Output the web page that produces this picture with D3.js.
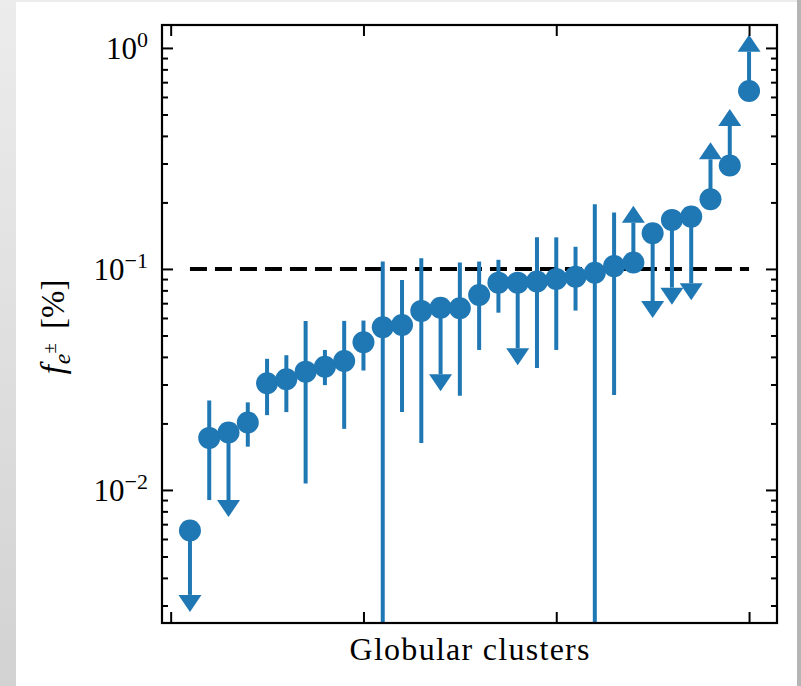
<!DOCTYPE html>
<html>
<head>
<meta charset="utf-8">
<script src="https://cdn.jsdelivr.net/npm/d3@7"></script>
<style>
  html, body { margin: 0; padding: 0; }
  body { width: 801px; height: 686px; overflow: hidden;
         background: linear-gradient(to bottom, #ececec, #d2d2d2); }
  svg { display: block; }
</style>
</head>
<body>
<svg id="chart" width="801" height="686"></svg>
<script>
// ---------------- data ----------------
const clusterIndex = [1,2,3,4,5,6,7,8,9,10,11,12,13,14,15,16,17,18,19,20,21,22,23,24,25,26,27,28,29,30];
const fValues = [0.00655,0.0172,0.0182,0.0202,0.0304,0.0317,0.0343,0.0361,0.0383,0.0466,
                 0.0545,0.0558,0.0646,0.0668,0.0664,0.0763,0.0867,0.0867,0.0877,0.0901,
                 0.0923,0.0962,0.103,0.107,0.145,0.1667,0.1725,0.2067,0.2937,0.639];
// lower end of each error bar (or arrow end for upper limits)
const errLower = [0.00335,0.0090,0.0090,0.0157,0.0218,0.0225,0.0107,0.0298,0.0189,0.0347,
                  0.001,0.0225,0.0163,0.0334,0.0267,0.043,0.0634,0.0438,0.0356,0.043,
                  0.0648,0.001,0.0269,0.107,0.0716,0.0823,0.0861,0.2067,0.2937,0.639];
// upper end of each error bar (or arrow end for lower limits)
const errUpper = [0.00655,0.0254,0.0182,0.0249,0.0392,0.0407,0.0582,0.0430,0.0582,0.0584,
                  0.108,0.0891,0.1118,0.0668,0.107,0.108,0.110,0.0867,0.139,0.139,
                  0.126,0.196,0.180,0.162,0.145,0.1667,0.1725,0.3135,0.4436,0.962];
// "upper" = upper limit (arrow down), "lower" = lower limit (arrow up), "none" = two-sided
const limitType = ["upper","none","upper","none","none","none","none","none","none","none",
                   "none","none","none","upper","none","none","none","upper","none","none",
                   "none","none","none","lower","upper","upper","upper","lower","lower","lower"];
const xTicks = [0, 10, 20, 30];
const yMajorTicks = [0.01, 0.1, 1];
const yTickExponents = ["\u22122", "\u22121", "0"];
const thresholdValue = 0.1;
const xLabel = "Globular clusters";

// ---------------- layout ----------------
const svg = d3.select("#chart");
const L = 162, R = 777, T = 25, B = 623;
const blue = "#1f77b4";
const serif = "'Liberation Serif', 'Times New Roman', serif";

svg.append("rect").attr("x", 16).attr("y", 2).attr("width", 781).attr("height", 684).attr("fill", "#ffffff");
svg.append("rect").attr("x", 797).attr("y", 0).attr("width", 4).attr("height", 686).attr("fill", "#b5b5b5");

const x = d3.scaleLinear().domain([-0.45, 31.45]).range([L, R]);
const y = d3.scaleLog().domain([0.0025, 1.27]).range([B, T]);

svg.append("defs").append("clipPath").attr("id", "clip")
  .append("rect").attr("x", L).attr("y", T).attr("width", R - L).attr("height", B - T);

const plot = svg.append("g").attr("clip-path", "url(#clip)");

// threshold dashed line
plot.append("line")
  .attr("x1", x(clusterIndex[0])).attr("x2", x(clusterIndex[clusterIndex.length - 1]))
  .attr("y1", y(thresholdValue)).attr("y2", y(thresholdValue))
  .attr("stroke", "#000").attr("stroke-width", 4).attr("stroke-dasharray", "17,8");

const pts = clusterIndex.map((c, i) => ({c, v: fValues[i], lo: errLower[i], hi: errUpper[i], lim: limitType[i]}));

// error bars
plot.selectAll("line.err").data(pts).enter().append("line")
  .attr("class", "err")
  .attr("x1", d => x(d.c)).attr("x2", d => x(d.c))
  .attr("y1", d => y(d.lo)).attr("y2", d => y(d.hi))
  .attr("stroke", blue).attr("stroke-width", 4);

// arrows for limits
const hw = 11.5, ah = 17;
plot.selectAll("path.arrow").data(pts.filter(d => d.lim !== "none")).enter().append("path")
  .attr("class", "arrow")
  .attr("d", d => {
    const cx = x(d.c);
    if (d.lim === "upper") {
      const yb = y(d.lo);
      return `M${cx - hw},${yb}L${cx + hw},${yb}L${cx},${yb + ah}Z`;
    } else {
      const yb = y(d.hi);
      return `M${cx - hw},${yb}L${cx + hw},${yb}L${cx},${yb - ah}Z`;
    }
  })
  .attr("fill", blue);

// markers
plot.selectAll("circle").data(pts).enter().append("circle")
  .attr("cx", d => x(d.c)).attr("cy", d => y(d.v)).attr("r", 11).attr("fill", blue);

// ---------------- axes ----------------
const minorTicks = [];
[0.001, 0.01, 0.1, 1].forEach(dec => {
  for (let k = 2; k <= 9; k++) {
    const v = dec * k;
    if (v > 0.0025 && v < 1.27) minorTicks.push(v);
  }
});

function styleAxis(g) {
  g.select(".domain").remove();
  g.selectAll("line").attr("stroke", "#000").attr("stroke-width", 2);
  g.selectAll("text").remove();
}

svg.append("g").attr("transform", `translate(0,${B})`)
  .call(d3.axisBottom(x).tickValues(xTicks).tickSize(-11).tickFormat("")).call(styleAxis);
svg.append("g").attr("transform", `translate(0,${T})`)
  .call(d3.axisTop(x).tickValues(xTicks).tickSize(-11).tickFormat("")).call(styleAxis);
svg.append("g").attr("transform", `translate(${L},0)`)
  .call(d3.axisLeft(y).tickValues(yMajorTicks).tickSize(-11).tickFormat("")).call(styleAxis);
svg.append("g").attr("transform", `translate(${R},0)`)
  .call(d3.axisRight(y).tickValues(yMajorTicks).tickSize(-11).tickFormat("")).call(styleAxis);
svg.append("g").attr("transform", `translate(${L},0)`)
  .call(d3.axisLeft(y).tickValues(minorTicks).tickSize(-6).tickFormat("")).call(styleAxis);
svg.append("g").attr("transform", `translate(${R},0)`)
  .call(d3.axisRight(y).tickValues(minorTicks).tickSize(-6).tickFormat("")).call(styleAxis);

// spines
svg.append("rect").attr("x", L).attr("y", T).attr("width", R - L).attr("height", B - T)
  .attr("fill", "none").attr("stroke", "#000").attr("stroke-width", 2.2);

// y tick labels
yMajorTicks.forEach((v, i) => {
  const t = svg.append("text")
    .attr("x", 148).attr("y", y(v) + 11)
    .attr("text-anchor", "end")
    .attr("font-family", serif).attr("font-size", 31).attr("fill", "#000");
  t.append("tspan").text("10");
  t.append("tspan").attr("dy", -12).attr("font-size", 22).text(yTickExponents[i]);
});

// x label
svg.append("text")
  .attr("x", (L + R) / 2).attr("y", 660)
  .attr("text-anchor", "middle")
  .attr("font-family", serif).attr("font-size", 32).attr("fill", "#000")
  .attr("textLength", 240).attr("lengthAdjust", "spacing")
  .text(xLabel);

// y label
const yl = svg.append("text")
  .attr("transform", `translate(64,${(T + B) / 2 + 3}) rotate(-90)`)
  .attr("text-anchor", "middle")
  .attr("font-family", serif).attr("font-size", 33).attr("fill", "#000");
yl.append("tspan").attr("font-style", "italic").text("f");
yl.append("tspan").attr("font-style", "italic").attr("font-size", 24).attr("dx", 1).attr("dy", 6).text("e");
yl.append("tspan").attr("font-size", 19).attr("dy", -14).text("\u00b1");
yl.append("tspan").attr("dx", 14).attr("dy", 8).text("[%]");
</script>
</body>
</html>
